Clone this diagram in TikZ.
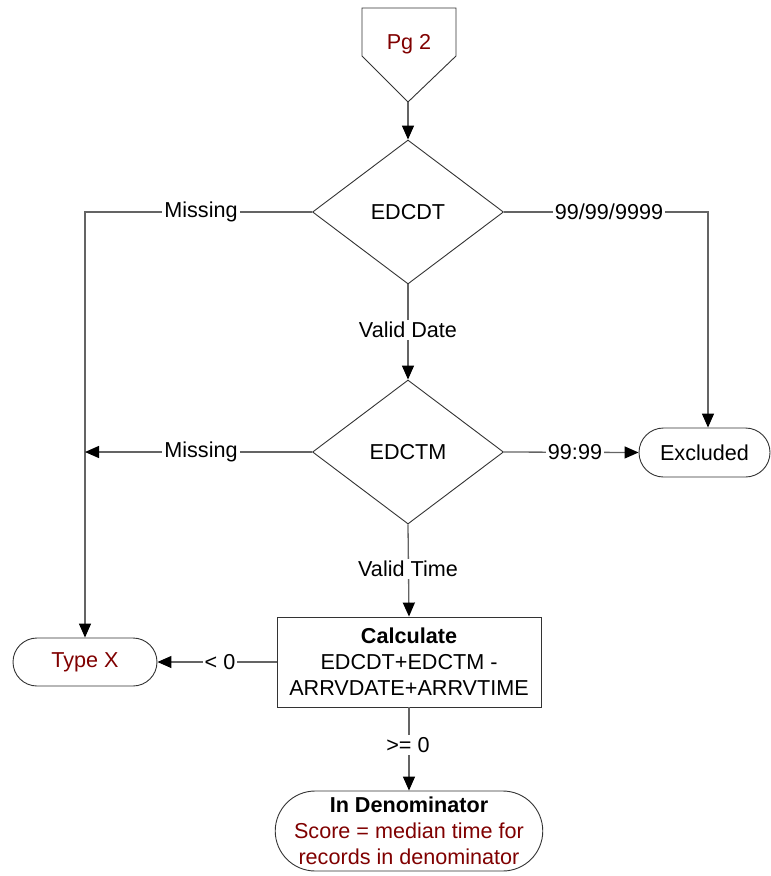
\documentclass[tikz,border=0pt]{standalone}
\usepackage{fontspec}
\setmainfont{Liberation Sans}
\usetikzlibrary{shapes.geometric,shapes.misc,arrows.meta}
\definecolor{dred}{RGB}{128,0,0}
\definecolor{lgray}{RGB}{100,100,100}
\begin{document}
\begin{tikzpicture}[x=1pt,y=-1pt,
  font=\fontsize{21.6}{26}\selectfont,
  box/.style={draw=black!80,line width=0.9pt,fill=white,align=center,inner sep=0pt},
  dec/.style={box,diamond,minimum width=191pt,minimum height=144pt},
  term/.style={box,rounded rectangle},
  conn/.style={draw=lgray,line width=1.3pt},
  arr/.style={conn,-{Triangle[length=14pt,width=12pt,black]}},
  lbl/.style={fill=white,inner sep=2pt}]
\useasboundingbox (0,0) rectangle (771,876);
% off-page connector
\draw[draw=black!80,line width=0.9pt] (362,8) -- (456,8) -- (456,56) -- (408,102) -- (362,56) -- cycle;
\node[text=dred] (pg) at (409,44) {Pg 2};
\coordinate (pgtip) at (408,102);
% decisions
\node[dec] (d1) at (408,212) {EDCDT};
\node[dec] (d2) at (408,452) {EDCTM};
% terminals
\node[term,minimum width=131pt,minimum height=49pt] (ex) at (704.5,452.5) {Excluded};
\node[term,minimum width=144pt,minimum height=48pt,text=dred] (tx) at (85,662) {Type X};
\node[box,minimum width=264pt,minimum height=90pt] (calc) at (409,662) {\textbf{Calculate}\\EDCDT+EDCTM -\\ARRVDATE+ARRVTIME};
\node[term,minimum width=264pt,minimum height=80pt] (den) at (409,831) {\textbf{In Denominator}\\\textcolor{dred}{Score = median time for}\\\textcolor{dred}{records in denominator}};
% coordinates
\coordinate (lc) at (85,212);
\coordinate (lj) at (85,452);
\coordinate (rc) at (708,212);
% connectors
\draw[arr] (pgtip) -- (d1.north);
\draw[arr] (d1.west) -- (lc) -- (tx.north);
\draw[arr] (d1.east) -- (rc) -- (rc |- ex.north);
\draw[arr] (d1.south) -- (d2.north);
\draw[arr] (d2.west) -- (lj);
\draw[arr] (d2.east) -- (ex.west);
\draw[arr] (d2.south) -- (calc.north);
\draw[arr] (calc.west) -- (tx.east);
\draw[arr] (calc.south) -- (den.north);
% labels
\node[lbl] (l1) at (201,212) {Missing};
\node[lbl] (l2) at (609,212) {99/99/9999};
\node[lbl] (l3) at (408,330) {Valid Date};
\node[lbl] (l4) at (201,452) {Missing};
\node[lbl] (l5) at (575,452) {99:99};
\node[lbl] (l6) at (408,569) {Valid Time};
\node[lbl] (l7) at (220,662) {< 0};
\node[lbl] (l8) at (408,745) {>= 0};
\end{tikzpicture}
\end{document}
